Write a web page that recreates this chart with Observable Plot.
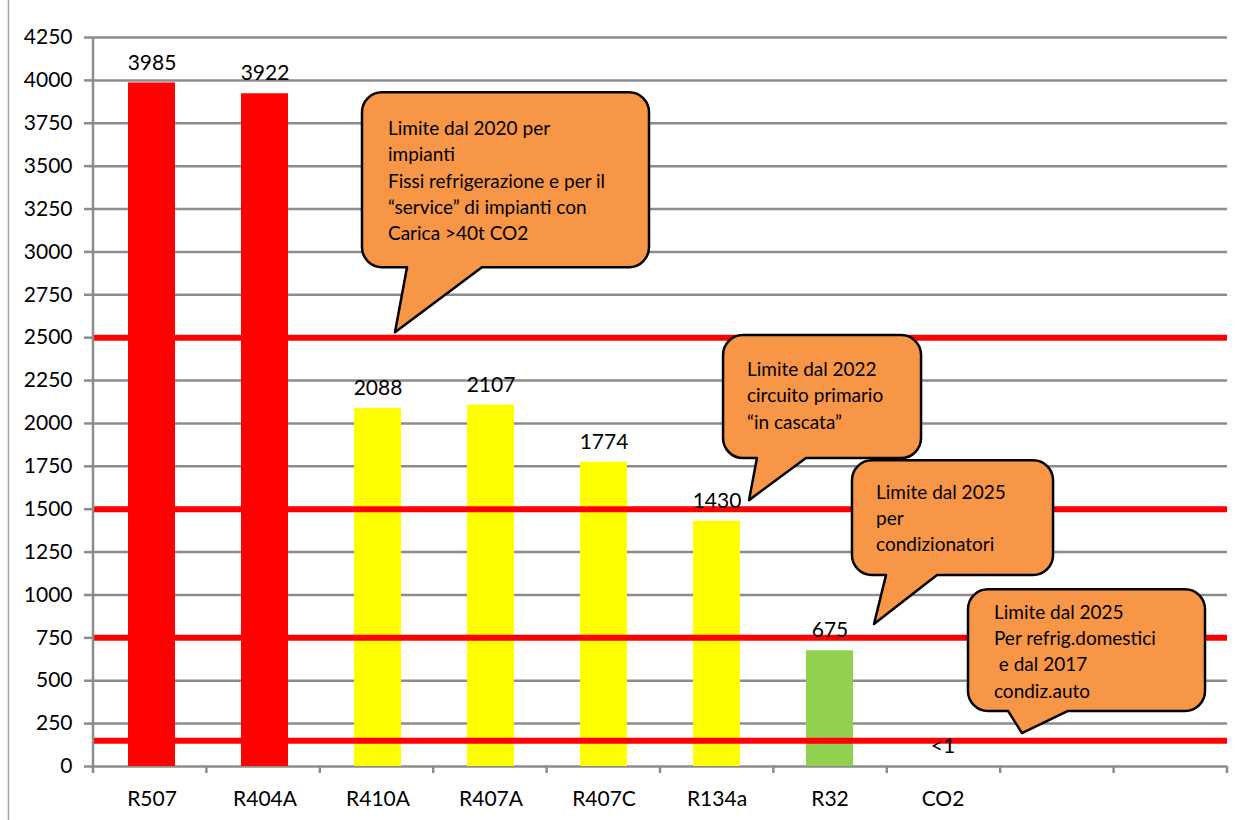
<!DOCTYPE html>
<html>
<head>
<meta charset="utf-8">
<script src="https://cdn.jsdelivr.net/npm/d3@7"></script>
<script src="https://cdn.jsdelivr.net/npm/@observablehq/plot@0.6"></script>
<style>
  html, body { margin: 0; padding: 0; background: #fff; }
  #chart { width: 1239px; height: 820px; overflow: hidden; }
</style>
</head>
<body>
<div id="chart"></div>
<script>
// ---- data ----
const categories = ["R507", "R404A", "R410A", "R407A", "R407C", "R134a", "R32", "CO2"];
const emptySlots = ["", " "];
const gwp = [3985, 3922, 2088, 2107, 1774, 1430, 675, 0.5];
const valueLabels = ["3985", "3922", "2088", "2107", "1774", "1430", "675", "<1"];
const barColors = ["#ff0000", "#ff0000", "#ffff00", "#ffff00", "#ffff00", "#ffff00", "#92d050", "#92d050"];
const yTicks = [0, 250, 500, 750, 1000, 1250, 1500, 1750, 2000, 2250, 2500, 2750, 3000, 3250, 3500, 3750, 4000, 4250];
const limits = [2500, 1500, 750, 150];

// callout annotations (x in category units along the axis, y in chart values)
const calloutLines = [
  ["Limite dal 2020 per", "impianti", "Fissi refrigerazione e per il", "\u201cservice\u201d di impianti con", "Carica >40t CO2"],
  ["Limite dal 2022", "circuito primario", "\u201cin cascata\u201d"],
  ["Limite dal 2025", "per", "condizionatori"],
  ["Limite dal 2025", "Per refrig.domestici", " e dal 2017", "condiz.auto"]
];
const calloutBox = [ // left, right, top, bottom
  [2.372, 4.903, 3928, 2908],
  [5.556, 7.302, 2512, 1795],
  [6.693, 8.466, 1783, 1113],
  [7.716, 9.806, 1031, 321]
];
const calloutTail = [ // base left, base right, tip x, tip y
  [2.769, 3.430, 2.663, 2529],
  [5.855, 6.287, 5.785, 1550],
  [6.993, 7.443, 6.887, 828],
  [8.069, 8.598, 8.192, 192]
];
const calloutText = [ // text x, first line y
  [2.601, 3718],
  [5.767, 2313],
  [6.905, 1597],
  [7.945, 897]
];

const data = categories.map((name, i) => ({name, value: gwp[i], label: valueLabels[i], color: barColors[i]}));
const xDomain = categories.concat(emptySlots);
const FONT = "Lato, 'Open Sans', sans-serif";

const plot = Plot.plot({
  width: 1239,
  height: 820,
  marginLeft: 93,
  marginRight: 12,
  marginTop: 37,
  marginBottom: 54,
  style: {fontFamily: FONT, fontSize: "21px", color: "black", background: "white", overflow: "visible"},
  x: {domain: xDomain, paddingInner: 0.585, paddingOuter: 0.2925, label: null},
  y: {domain: [0, 4250], label: null},
  color: {type: "identity"},
  marks: [
    Plot.ruleY(yTicks, {stroke: "#8c8c8c", strokeWidth: 2.5}),
    Plot.barY(data, {x: "name", y: "value", fill: "color"}),
    Plot.ruleY(limits, {stroke: "#ff0000", strokeWidth: 6}),
    Plot.text(data, {x: "name", y: "value", text: "label", dy: -20, fontSize: 21, fill: "black"}),
    Plot.axisY({ticks: yTicks, tickSize: 9, tickPadding: 12, stroke: "#8c8c8c", strokeWidth: 2.5, fill: "black", label: null, tickFormat: d => String(d), fontSize: 21}),
    Plot.axisX({tickSize: 0, tickPadding: 25, label: null, fill: "black", fontSize: 21})
  ]
});

document.getElementById("chart").appendChild(plot);

// ---- decorations drawn through the plot's scales ----
const xs = plot.scale("x");
const ys = plot.scale("y");
const x0 = xs.range[0], x1 = xs.range[1];
const step = (x1 - x0) / xDomain.length;
const px = u => x0 + u * step;
const py = v => ys.apply(v);
const svg = d3.select(plot);

const deco = svg.append("g");
// left frame line
deco.append("line").attr("x1", 8.5).attr("x2", 8.5).attr("y1", 0).attr("y2", 820)
  .attr("stroke", "#a6a6a6").attr("stroke-width", 1.5);
// y axis line
deco.append("line").attr("x1", x0).attr("x2", x0).attr("y1", py(4250)).attr("y2", py(0) + 1)
  .attr("stroke", "#8c8c8c").attr("stroke-width", 2.5);
// x axis boundary ticks
for (let i = 0; i <= xDomain.length; i++) {
  deco.append("line").attr("x1", px(i)).attr("x2", px(i)).attr("y1", py(0)).attr("y2", py(0) + 7)
    .attr("stroke", "#8c8c8c").attr("stroke-width", 2.5);
}

// callouts
const r = 20;
calloutBox.forEach((b, k) => {
  const L = px(b[0]), R = px(b[1]), T = py(b[2]), B = py(b[3]);
  const t = calloutTail[k];
  const bl = px(t[0]), br = px(t[1]), tx = px(t[2]), ty = py(t[3]);
  const p = [
    `M${L + r},${T}`, `H${R - r}`, `A${r},${r} 0 0 1 ${R},${T + r}`,
    `V${B - r}`, `A${r},${r} 0 0 1 ${R - r},${B}`,
    `H${br}`, `L${tx},${ty}`, `L${bl},${B}`,
    `H${L + r}`, `A${r},${r} 0 0 1 ${L},${B - r}`,
    `V${T + r}`, `A${r},${r} 0 0 1 ${L + r},${T}`, "Z"
  ].join("");
  const g = deco.append("g");
  g.append("path").attr("d", p).attr("fill", "#f79646").attr("stroke", "black")
    .attr("stroke-width", 2.5).attr("stroke-linejoin", "round");
  const [txu, tyv] = calloutText[k];
  const text = g.append("text").attr("font-family", FONT).attr("font-size", 19)
    .attr("text-anchor", "start").attr("fill", "black");
  calloutLines[k].forEach((line, j) => {
    text.append("tspan").attr("x", px(txu)).attr("y", py(tyv) + j * 26.3).attr("dy", "0.35em")
      .style("white-space", "pre").text(line);
  });
});
</script>
</body>
</html>
